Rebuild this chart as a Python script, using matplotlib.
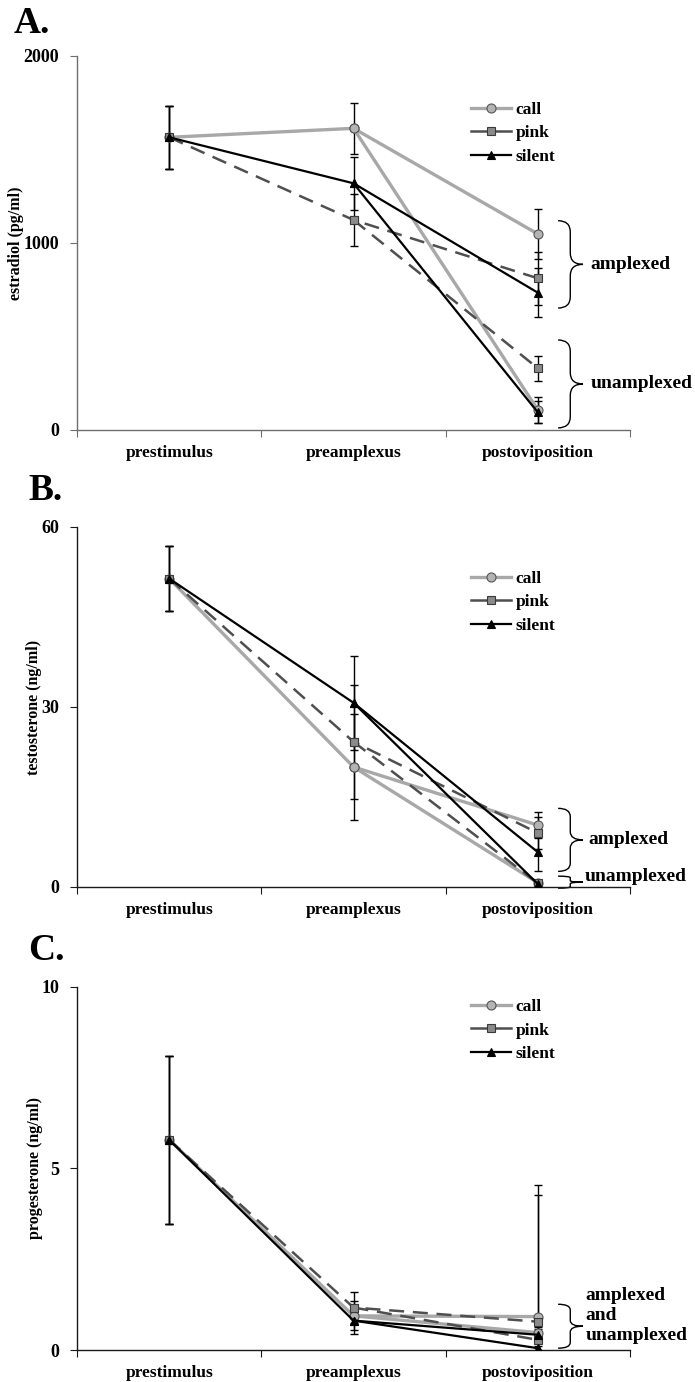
import matplotlib.pyplot as plt
from matplotlib.lines import Line2D
from matplotlib.path import Path
from matplotlib.patches import PathPatch
import matplotlib.transforms as mtransforms

plt.rcParams["font.family"] = ["Liberation Serif", "DejaVu Serif"]
plt.rcParams["font.weight"] = "bold"

stages = ["prestimulus", "preamplexus", "postoviposition"]
groups = ["call", "pink", "silent"]

# estradiol (pg/ml): values per group (call, pink, silent) and SE
e2_pre = [1565, 1565, 1565]
e2_pre_err = [170, 170, 170]
e2_preamp = [1613, 1123, 1319]
e2_preamp_err = [137, 139, 143]
e2_amp = [1048, 811, 734]
e2_amp_err = [132, 143, 131]
e2_unamp = [107, 330, 94]
e2_unamp_err = [68, 68, 59]

# testosterone (ng/ml)
t_pre = [51.4, 51.4, 51.4]
t_pre_err = [5.4, 5.4, 5.4]
t_preamp = [20.0, 24.2, 30.7]
t_preamp_err = [8.9, 9.5, 7.85]
t_amp = [10.3, 9.0, 5.8]
t_amp_err = [2.2, 2.6, 3.1]
t_unamp = [0.7, 0.6, 0.5]
t_unamp_err = [0.3, 0.3, 0.3]

# progesterone (ng/ml)
p_pre = [5.79, 5.79, 5.79]
p_pre_err = [2.32, 2.32, 2.32]
p_preamp = [0.94, 1.17, 0.81]
p_preamp_err = [0.40, 0.43, 0.38]
p_amp = [0.92, 0.78, 0.42]
p_amp_err = [3.62, 3.49, 0.20]
p_unamp = [0.48, 0.28, 0.05]
p_unamp_err = [0.10, 0.10, 0.05]

styles = {
    "call": dict(color="#a8a8a8", lw=2.4, ls="-", marker="o", ms=6.5,
                 mfc="#b4b4b4", mec="#555555", mew=0.8),
    "pink": dict(color="#4f4f4f", lw=1.8, ls=(0, (6, 3.5)), marker="s", ms=6,
                 mfc="#8a8a8a", mec="#3a3a3a", mew=0.8),
    "silent": dict(color="black", lw=1.6, ls="-", marker="^", ms=6,
                   mfc="black", mec="black", mew=0.8),
}


def brace(ax, x0, x1, x2, yt, yb, lw=1.0):
    # right-pointing curly brace; x in axes fraction, y in data units
    trans = mtransforms.blended_transform_factory(ax.transAxes, ax.transData)
    ym = (yt + yb) / 2
    r = (yt - yb) * 0.13
    verts = [(x0, yt), (x1, yt), (x1, yt - r), (x1, ym + r), (x1, ym), (x2, ym),
             (x1, ym), (x1, ym - r), (x1, yb + r), (x1, yb), (x0, yb)]
    codes = [Path.MOVETO, Path.CURVE3, Path.CURVE3, Path.LINETO, Path.CURVE3,
             Path.CURVE3, Path.CURVE3, Path.CURVE3, Path.LINETO, Path.CURVE3,
             Path.CURVE3]
    ax.add_patch(PathPatch(Path(verts, codes), fill=False, lw=lw,
                           color="black", transform=trans, clip_on=False))


def panel(ax, pre, pre_err, preamp, preamp_err, amp, amp_err, unamp, unamp_err,
          ymax, ylabel, leg_y, spine_color):
    for i, g in enumerate(groups):
        ax.errorbar([1, 2, 3, 3], [pre[i], preamp[i], amp[i], unamp[i]],
                    yerr=[pre_err[i], preamp_err[i], amp_err[i], unamp_err[i]],
                    fmt="none", ecolor="black", elinewidth=1.0, capsize=3.2,
                    capthick=1.0, zorder=2)
    for i, g in enumerate(groups):
        st = styles[g]
        ax.plot([1, 2, 3], [pre[i], preamp[i], amp[i]], zorder=3 + i, **st)
        ax.plot([2, 3], [preamp[i], unamp[i]], zorder=3 + i, **st)

    ax.set_xlim(0.5, 3.5)
    ax.set_ylim(0, ymax)
    ax.set_yticks([0, ymax / 2, ymax])
    ax.set_yticklabels([f"{v:g}" for v in [0, ymax / 2, ymax]])
    ax.set_xticks([0.5, 1.5, 2.5, 3.5])
    ax.set_xticklabels([])
    ax.set_xticks([1, 2, 3], minor=True)
    ax.set_xticklabels(stages, minor=True)
    ax.tick_params(axis="x", which="minor", length=0, pad=11, labelsize=12.5)
    ax.tick_params(axis="x", which="major", length=5, direction="out",
                   color=spine_color)
    ax.tick_params(axis="y", length=5, direction="out", pad=8, labelsize=13,
                   color=spine_color)
    for s in ["top", "right"]:
        ax.spines[s].set_visible(False)
    for s in ["left", "bottom"]:
        ax.spines[s].set_color(spine_color)
        ax.spines[s].set_linewidth(1.0)
    ax.set_ylabel(ylabel, fontsize=11.5, fontweight="bold")

    handles = [Line2D([], [], **{**styles[g], "ls": "-"}) for g in groups]
    ax.legend(handles, groups, loc="upper left", bbox_to_anchor=(0.712, leg_y),
              frameon=False, fontsize=12.5, handlelength=2.3, handletextpad=0.3,
              labelspacing=0.42, borderpad=0, borderaxespad=0)


fig = plt.figure(figsize=(6.95, 13.82), dpi=100)
x0, w = 77 / 695, 553 / 695
axA = fig.add_axes([x0, 0.6889, w, 0.2706])
axB = fig.add_axes([x0, 0.3582, w, 0.2605])
axC = fig.add_axes([x0, 0.02315, w, 0.2627])

panel(axA, e2_pre, e2_pre_err, e2_preamp, e2_preamp_err, e2_amp, e2_amp_err,
      e2_unamp, e2_unamp_err, 2000, "estradiol (pg/ml)", 0.878, "#6e6e6e")
panel(axB, t_pre, t_pre_err, t_preamp, t_preamp_err, t_amp, t_amp_err,
      t_unamp, t_unamp_err, 60, "testosterone (ng/ml)", 0.878, "#1a1a1a")
panel(axC, p_pre, p_pre_err, p_preamp, p_preamp_err, p_amp, p_amp_err,
      p_unamp, p_unamp_err, 10, "progesterone (ng/ml)", 0.967, "#1a1a1a")

axA.yaxis.set_label_coords(-0.096, 0.5)
axB.yaxis.set_label_coords(-0.063, 0.5)
axC.yaxis.set_label_coords(-0.061, 0.5)

# panel letters
fig.text(14 / 695, 1 - 33 / 1382, "A.", fontsize=27, fontweight="bold",
         va="baseline")
fig.text(28 / 695, 1 - 500 / 1382, "B.", fontsize=27, fontweight="bold",
         va="baseline")
fig.text(28 / 695, 1 - 960 / 1382, "C.", fontsize=27, fontweight="bold",
         va="baseline")

# group brackets at postoviposition
bx0, bx1, bx2 = 0.870, 0.892, 0.915
brace(axA, bx0, bx1, bx2, 1119, 652)
brace(axA, bx0, bx1, bx2, 481, 11)
axA.text(0.928, (1119 + 652) / 2, "amplexed", transform=axA.get_yaxis_transform(),
         fontsize=14, fontweight="bold", va="center", clip_on=False)
axA.text(0.928, (481 + 11) / 2, "unamplexed", transform=axA.get_yaxis_transform(),
         fontsize=14, fontweight="bold", va="center", clip_on=False)

brace(axB, bx0, bx1, bx2, 13.1, 2.6)
brace(axB, bx0, bx1, bx2, 1.8, -0.2)
axB.text(0.925, 7.9, "amplexed", transform=axB.get_yaxis_transform(),
         fontsize=14, fontweight="bold", va="center", clip_on=False)
axB.text(0.918, 1.8, "unamplexed", transform=axB.get_yaxis_transform(),
         fontsize=14, fontweight="bold", va="center", clip_on=False)

brace(axC, bx0, bx1, bx2, 1.26, 0.05)
axC.text(0.920, 0.96, "amplexed\nand\nunamplexed",
         transform=axC.get_yaxis_transform(), fontsize=14, fontweight="bold",
         va="center", linespacing=1.22, clip_on=False)

fig.savefig("out.png", dpi=100)
